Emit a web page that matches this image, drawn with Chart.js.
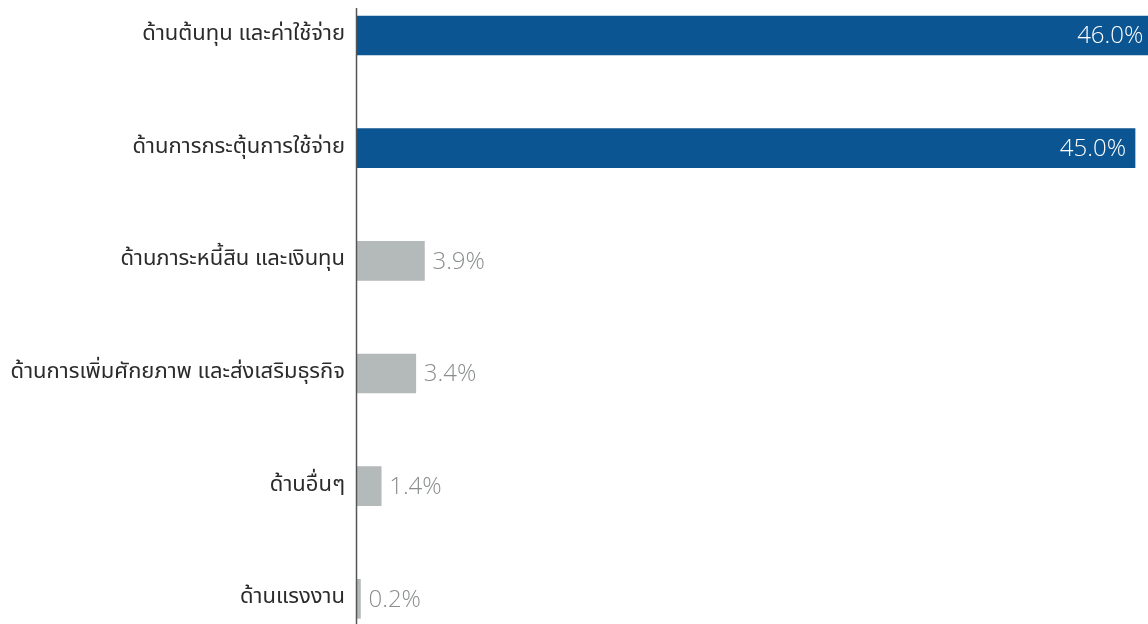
<!DOCTYPE html>
<html>
<head>
<meta charset="utf-8">
<script src="https://cdn.jsdelivr.net/npm/chart.js@4/dist/chart.umd.min.js"></script>
<style>
html,body{margin:0;padding:0;background:#fff;}
#wrap{position:relative;width:1148px;height:624px;}
</style>
</head>
<body>
<div id="wrap"><canvas id="c"></canvas></div>
<script>
const categories = [
  "ด้านต้นทุน และค่าใช้จ่าย",
  "ด้านการกระตุ้นการใช้จ่าย",
  "ด้านภาระหนี้สิน และเงินทุน",
  "ด้านการเพิ่มศักยภาพ และส่งเสริมธุรกิจ",
  "ด้านอื่นๆ",
  "ด้านแรงงาน"
];
const shares = [46.0, 45.0, 3.9, 3.4, 1.4, 0.2];
const highlighted = [true, true, false, false, false, false];

const FONT = "'Noto Sans Thai', 'Noto Sans', Loma, Garuda, sans-serif";
const NUMFONT = "'Open Sans', 'Noto Sans', sans-serif";
const BLUE = '#0b5592';
const GREY = '#b4b9b9';

const labelPlugin = {
  id: 'barLabels',
  afterDatasetsDraw(chart) {
    const ctx = chart.ctx;
    const meta = chart.getDatasetMeta(0);
    ctx.save();
    ctx.font = '300 24px ' + NUMFONT;
    ctx.textBaseline = 'middle';
    meta.data.forEach((bar, i) => {
      const txt = shares[i].toFixed(1) + '%';
      if (highlighted[i]) {
        ctx.fillStyle = '#ffffff';
        ctx.textAlign = 'right';
        ctx.fillText(txt, bar.x - 9, bar.y + 1);
      } else {
        ctx.fillStyle = '#8a8d8d';
        ctx.textAlign = 'left';
        ctx.fillText(txt, bar.x + 8, bar.y + 1);
      }
    });
    ctx.restore();
  }
};

const axisLinePlugin = {
  id: 'axisLine',
  afterDatasetsDraw(chart) {
    const ctx = chart.ctx;
    const x = Math.round(chart.scales.x.getPixelForValue(0)) - 0.5;
    ctx.save();
    ctx.strokeStyle = '#555555';
    ctx.lineWidth = 1.5;
    ctx.beginPath();
    ctx.moveTo(x, 8);
    ctx.lineTo(x, chart.height);
    ctx.stroke();
    ctx.restore();
  }
};

new Chart(document.getElementById('c'), {
  type: 'bar',
  data: {
    labels: categories,
    datasets: [{
      data: shares,
      backgroundColor: highlighted.map(h => h ? BLUE : GREY),
      borderWidth: 0,
      barThickness: 39,
      clip: false
    }]
  },
  options: {
    indexAxis: 'y',
    responsive: true,
    maintainAspectRatio: false,
    animation: false,
    layout: { padding: { top: 35.5, bottom: 24.5, left: 0, right: 0 } },
    plugins: { legend: { display: false }, tooltip: { enabled: false } },
    scales: {
      x: {
        display: false,
        min: 0,
        max: 45.75
      },
      y: {
        offset: false,
        grid: { display: false, drawTicks: false },
        border: { display: false },
        afterFit(scale) { scale.width = 357; },
        ticks: {
          color: '#2b2b2b',
          padding: 12,
          font: { family: FONT, size: 22 }
        }
      }
    }
  },
  plugins: [labelPlugin, axisLinePlugin]
});
</script>
</body>
</html>
